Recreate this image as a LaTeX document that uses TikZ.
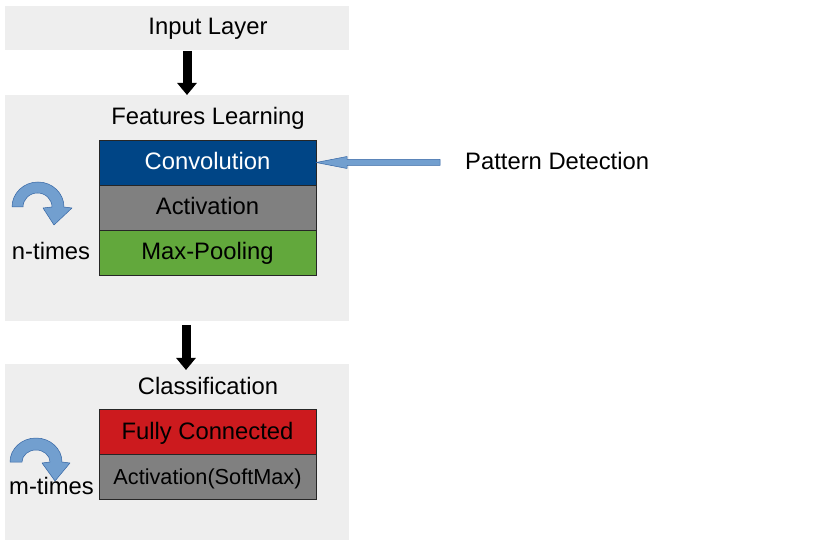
\documentclass[tikz,border=0pt]{standalone}
\usepackage{fontspec}
\setmainfont{Liberation Sans}
\usetikzlibrary{arrows.meta,calc}
\definecolor{panel}{HTML}{EEEEEE}
\definecolor{convblue}{HTML}{004586}
\definecolor{actgray}{HTML}{808080}
\definecolor{poolgreen}{HTML}{62A83C}
\definecolor{fcred}{HTML}{CC1A1E}
\definecolor{lblue}{HTML}{729FCF}
\definecolor{dblue}{HTML}{3465A4}
\tikzset{
  panelbox/.style={fill=panel, draw=none, minimum width=344pt, inner sep=0pt, outer sep=0pt},
  layerbox/.style={draw=black!85, line width=0.7pt, minimum width=217pt, minimum height=45pt, inner sep=0pt, outer sep=0pt},
  lbl/.style={inner sep=0pt, anchor=base, font=\fontsize{23.8}{28}\selectfont},
  bigarrow/.style={line width=9pt, draw=black, -{Triangle[width=19pt,length=12pt]}},
  curlarrow/.style={fill=lblue, draw=dblue, line width=0.5pt, line join=round},
}
\begin{document}
\begin{tikzpicture}[x=1pt,y=1pt]
\useasboundingbox (0,0) rectangle (839,-540);
% panels
\node[panelbox, minimum height=44pt] (input) at (177,-28) {};
\node[panelbox, minimum height=226pt] (features) at (177,-208) {};
\node[panelbox, minimum height=176pt] (classif) at (177,-452) {};
% layers
\node[layerbox, fill=convblue] (conv) at (207.5,-162.5) {};
\node[layerbox, fill=actgray] (act) at (207.5,-207.5) {};
\node[layerbox, fill=poolgreen] (pool) at (207.5,-252.5) {};
\node[layerbox, fill=fcred] (fc) at (207.5,-431.5) {};
\node[layerbox, fill=actgray] (soft) at (207.5,-476.5) {};
% titles
\node[lbl] (inputtxt) at (208,-35) {Input Layer};
\node[lbl] (feattxt) at (208,-125) {Features Learning};
\node[lbl] (classtxt) at (208,-394.5) {Classification};
% layer texts
\node[lbl, text=white] (convtxt) at (207.5,-170) {Convolution};
\node[lbl] (acttxt) at (207.5,-215) {Activation};
\node[lbl] (pooltxt) at (207.5,-260) {Max-Pooling};
\node[lbl] (fctxt) at (207.5,-439.5) {Fully Connected};
\node[lbl, font=\fontsize{21.7}{25}\selectfont] (softtxt) at (207.5,-484) {Activation(SoftMax)};
% side labels
\node[lbl] (ntimes) at (51,-260) {n-times};
\node[lbl] (mtimes) at (51.5,-494) {m-times};
\node[lbl, anchor=base west] (pd) at (465,-169.5) {Pattern Detection};
\coordinate (pstart) at (440,-162.5);
% flow arrows
\draw[bigarrow] ([xshift=10pt,yshift=-1pt]input.south) -- ([xshift=10pt]features.north);
\draw[bigarrow] ([xshift=9pt,yshift=-4pt]features.south) -- ([xshift=9pt,yshift=-6pt]classif.north);
% pattern detection arrow
\filldraw[curlarrow] (conv.east) -- ++(31,6) -- ++(0,-3) -- ($(pstart)+(0,3)$) -- ($(pstart)+(0,-3)$) -- ($(conv.east)+(31,-3)$) -- ++(0,-3) -- cycle;
% repetition arrows
\filldraw[curlarrow] (12,-207) arc[start angle=180,end angle=0,x radius=26,y radius=25] -- (72,-208) -- (54,-225) -- (43,-208) -- (52,-207) arc[start angle=0,end angle=180,x radius=14.5,y radius=14] -- cycle;
\filldraw[curlarrow] (10,-462) arc[start angle=180,end angle=0,x radius=26,y radius=24] -- (70,-463) -- (55,-481) -- (42,-463) -- (50,-462) arc[start angle=0,end angle=180,x radius=14,y radius=12] -- cycle;
\end{tikzpicture}
\end{document}
